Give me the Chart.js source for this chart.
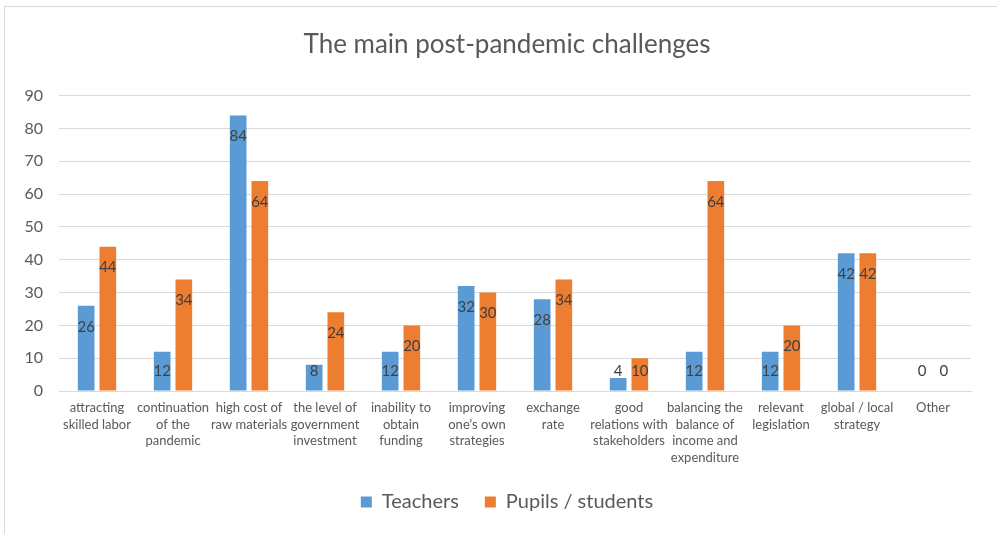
<!DOCTYPE html>
<html>
<head>
<meta charset="utf-8">
<script src="https://cdn.jsdelivr.net/npm/chart.js@4"></script>
<style>
  html, body { margin: 0; padding: 0; background: #ffffff; }
  #wrap { position: relative; width: 997px; height: 534px; overflow: hidden; }
  #frame { position: absolute; left: 4px; top: 6px; width: 1200px; height: 800px;
           border-left: 1px solid #d9d9d9; border-top: 1px solid #d9d9d9; }
  #chart { position: absolute; left: 0; top: 0; }
</style>
</head>
<body>
<div id="wrap">
  <div id="frame"></div>
  <canvas id="chart" width="997" height="534"></canvas>
</div>
<script>
const chartTitle = 'The main post-pandemic challenges';
const categories = [
  ['attracting', 'skilled labor'],
  ['continuation', 'of the', 'pandemic'],
  ['high cost of', 'raw materials'],
  ['the level of', 'government', 'investment'],
  ['inability to', 'obtain', 'funding'],
  ['improving', "one's own", 'strategies'],
  ['exchange', 'rate'],
  ['good', 'relations with', 'stakeholders'],
  ['balancing the', 'balance of', 'income and', 'expenditure'],
  ['relevant', 'legislation'],
  ['global / local', 'strategy'],
  ['Other']
];
const seriesNames = ['Teachers', 'Pupils / students'];
const teachers = [26, 12, 84, 8, 12, 32, 28, 4, 12, 12, 42, 0];
const pupils   = [44, 34, 64, 24, 20, 30, 34, 10, 64, 20, 42, 0];
const yTicks = [0, 10, 20, 30, 40, 50, 60, 70, 80, 90];

const FONT = "'Lato', 'Open Sans', sans-serif";
const TEXT = '#595959';

// Value labels sit just inside the top of each bar, never lower than a fixed
// distance above the baseline.
const valueLabels = {
  id: 'valueLabels',
  afterDatasetsDraw(chart) {
    const ctx = chart.ctx;
    const zero = chart.scales.y.getPixelForValue(0);
    ctx.save();
    ctx.font = '15px ' + FONT;
    ctx.fillStyle = '#404040';
    ctx.textAlign = 'center';
    ctx.textBaseline = 'middle';
    chart.data.datasets.forEach((ds, i) => {
      chart.getDatasetMeta(i).data.forEach((bar, j) => {
        const y = Math.min(bar.y + 21, zero - 20);
        ctx.fillText(String(ds.data[j]), bar.x, y);
      });
    });
    ctx.restore();
  }
};

new Chart(document.getElementById('chart'), {
  type: 'bar',
  data: {
    labels: categories,
    datasets: [
      { label: seriesNames[0], data: teachers, backgroundColor: '#5b9bd5',
        categoryPercentage: 0.57, barPercentage: 0.77 },
      { label: seriesNames[1], data: pupils, backgroundColor: '#ed7d31',
        categoryPercentage: 0.57, barPercentage: 0.77 }
    ]
  },
  options: {
    responsive: false,
    animation: false,
    // the frame runs past the right edge, so title and legend centre on it
    layout: { padding: { left: 0, right: -17, top: 0, bottom: 12 } },
    plugins: {
      title: {
        display: true, text: chartTitle, color: TEXT,
        font: { family: FONT, size: 26, weight: 'normal' },
        padding: { top: 29.5, bottom: 35 }
      },
      legend: {
        position: 'bottom',
        labels: {
          color: TEXT, font: { family: FONT, size: 20 },
          boxWidth: 11, boxHeight: 11, padding: 26
        }
      },
      tooltip: { enabled: false }
    },
    scales: {
      x: {
        grid: { display: false, drawTicks: false },
        border: { display: true, color: '#d9d9d9', width: 1 },
        ticks: { color: TEXT, font: { family: FONT, size: 13, lineHeight: 1.27 },
                 maxRotation: 0, autoSkip: false, padding: 9 },
        afterFit(scale) { scale.height = 75; }
      },
      y: {
        min: 0, max: 90,
        afterBuildTicks(scale) { scale.ticks = yTicks.map(v => ({ value: v })); },
        grid: { color: '#d9d9d9', lineWidth: 1, drawTicks: false },
        border: { display: false },
        ticks: { color: TEXT, font: { family: FONT, size: 16 }, padding: 16 },
        afterFit(scale) { scale.width = 59; }
      },
      // blank right-hand margin of the plot
      margin: {
        type: 'linear', position: 'right', min: 0, max: 90,
        grid: { display: false }, border: { display: false },
        ticks: { display: false },
        afterFit(scale) { scale.width = 43; }
      }
    }
  },
  plugins: [valueLabels]
});
</script>
</body>
</html>
